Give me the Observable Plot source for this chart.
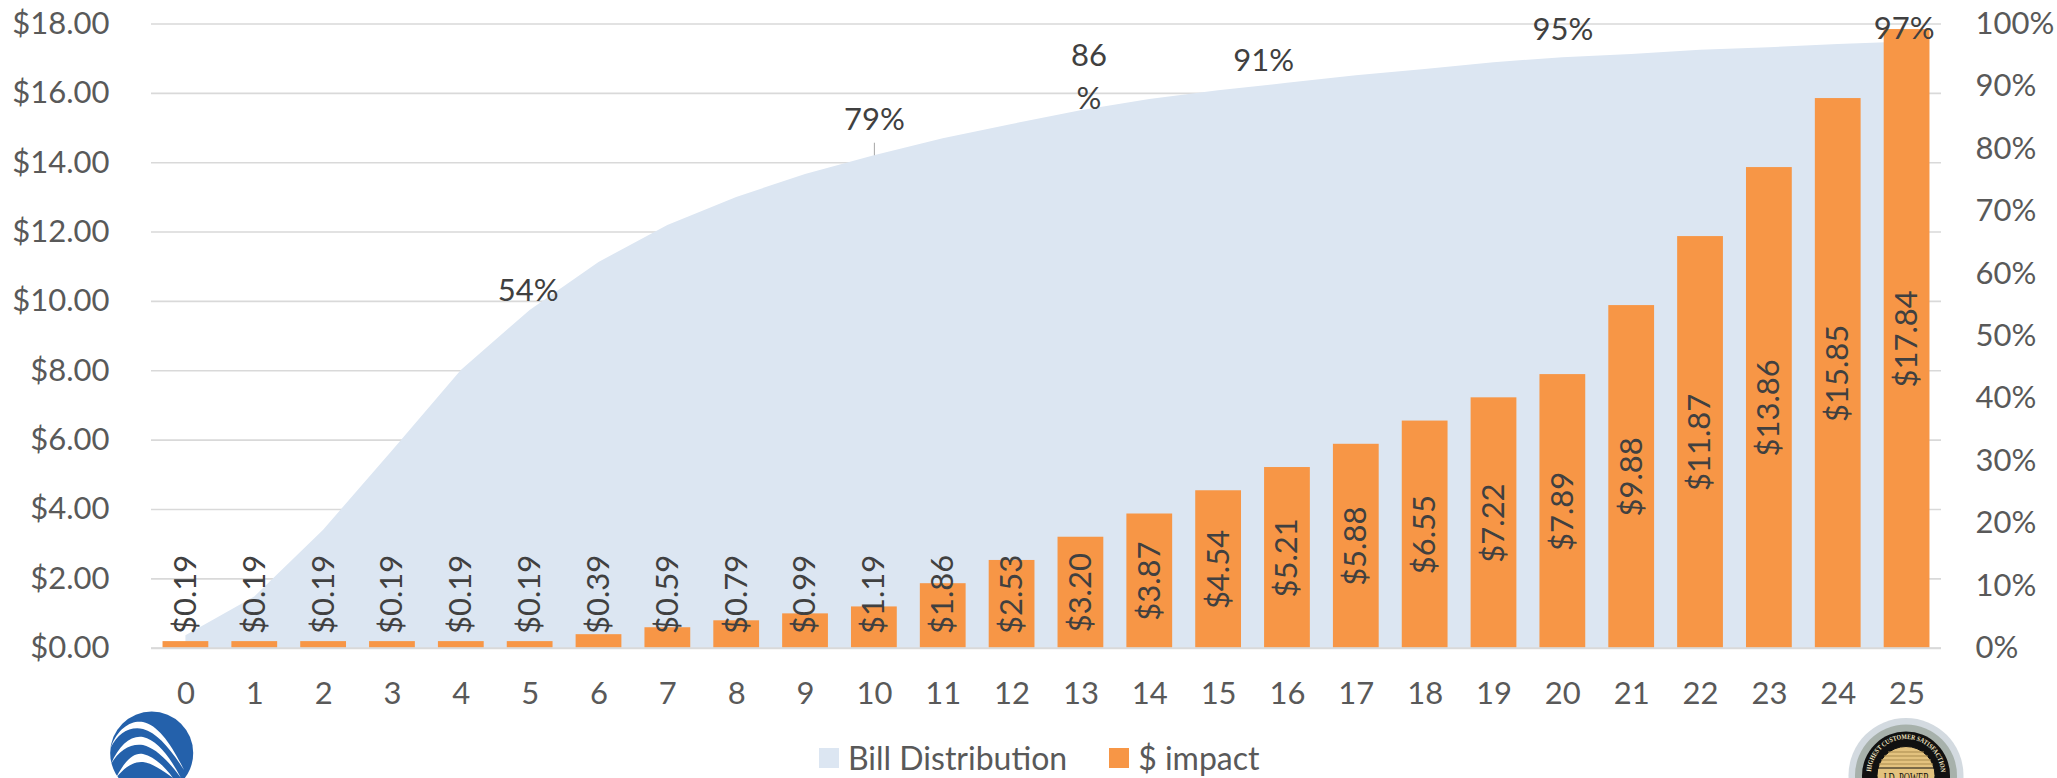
<!DOCTYPE html>
<html>
<head>
<meta charset="utf-8">
<script src="https://cdn.jsdelivr.net/npm/d3@7"></script>
<script src="https://cdn.jsdelivr.net/npm/@observablehq/plot@0.6"></script>
<style>
  html, body { margin: 0; padding: 0; background: #fff; }
  body { position: relative; width: 2057px; height: 778px; overflow: hidden; font-family: Lato, sans-serif; }
  #chart svg { display: block; }
  #legend { position: absolute; top: 739px; left: 819px; height: 38px; display: flex; align-items: center; color: #595959; font-size: 32px; line-height: 36px; white-space: nowrap; }
  #legend i { display: inline-block; width: 20px; height: 20px; margin-right: 9px; }
  #legend span { margin-right: 42px; }
  .decor { position: absolute; overflow: hidden; }
</style>
</head>
<body>
<div id="chart"></div>
<div id="legend">
  <i style="background:#DCE6F2"></i><span id="legendArea"></span>
  <i style="background:#F79646"></i><span id="legendBars"></span>
</div>
<svg class="decor" style="left:100px;top:700px" width="110" height="78" viewBox="100 700 110 78">
  <circle cx="151.7" cy="753" r="41.5" fill="#2461AB"/>
  <g fill="#fff">
    <path d="M110.5 748 C118 727 132 720 143 722 C158 725 172 745 184 770 C170 748 157 733 143 729 C130 726 118 733 110.5 748Z"/>
    <path d="M111 764 C119 745 131 735 143 737 C157 740 170 757 181 778 C167 759 155 748 143 745 C131 743 119 750 111 764Z"/>
    <path d="M116 778 C124 762 133 752 143 754 C155 757 165 767 173 778 C162 770 152 763 143 762 C133 761 124 768 116 778Z"/>
  </g>
</svg>
<svg class="decor" style="left:1840px;top:710px" width="130" height="68" viewBox="0 0 130 68">
  <circle cx="66" cy="65.5" r="57.5" fill="#D3DAE0"/>
  <circle cx="66" cy="65.5" r="51" fill="#A7B1AB"/>
  <circle cx="66" cy="65.5" r="44" fill="#111"/>
  <circle cx="66" cy="65.5" r="29" fill="#E3C27E" stroke="#111"/>
  <path id="badgeArc" d="M31 64 A35 35 0 0 1 101 64" fill="none"/>
  <text font-family="Liberation Serif, serif" font-size="7" font-weight="700" fill="#f2e6c4" textLength="106" lengthAdjust="spacingAndGlyphs"><textPath href="#badgeArc" startOffset="2%">HIGHEST CUSTOMER SATISFACTION</textPath></text>
  <g stroke="#a98b4e" stroke-width="1">
    <line x1="48" y1="42" x2="84" y2="42"/><line x1="44" y1="46" x2="88" y2="46"/><line x1="41" y1="50" x2="91" y2="50"/><line x1="39" y1="54" x2="93" y2="54"/>
  </g>
  <line x1="37" y1="58" x2="95" y2="58" stroke="#111"/>
  <text x="66" y="73" text-anchor="middle" font-family="Liberation Serif, serif" font-size="14" fill="#111" textLength="46" lengthAdjust="spacingAndGlyphs">J.D. POWER</text>
</svg>
<script>
// Categories
const categories = d3.range(0, 26);
// Series: $ impact (dollars)
const impact = [0.19, 0.19, 0.19, 0.19, 0.19, 0.19, 0.39, 0.59, 0.79, 0.99, 1.19, 1.86, 2.53, 3.20, 3.87, 4.54, 5.21, 5.88, 6.55, 7.22, 7.89, 9.88, 11.87, 13.86, 15.85, 17.84];
// Series: Bill Distribution (cumulative percent)
const billDistribution = [2.0, 8.2, 18.9, 31.6, 44.5, 54.1, 61.8, 67.7, 72.2, 75.9, 78.9, 81.6, 83.9, 86.1, 87.9, 89.3, 90.5, 91.7, 92.7, 93.8, 94.6, 95.1, 95.8, 96.2, 96.7, 97.1];
// Tick labels
const dollarTicks = [0, 2, 4, 6, 8, 10, 12, 14, 16, 18];
const percentTicks = [0, 10, 20, 30, 40, 50, 60, 70, 80, 90, 100];
const seriesNames = ["Bill Distribution", "$ impact"];

document.getElementById("legendArea").textContent = seriesNames[0];
document.getElementById("legendBars").textContent = seriesNames[1];

const DOLLAR_MAX = 18;
const pct = p => p * DOLLAR_MAX / 100;
const FONT = 31;
const rows = categories.map((c, i) => ({c, impact: impact[i], bill: billDistribution[i]}));
const AXIS = "#595959", LABEL = "#404040", GRID = "#D9D9D9";

// One callout for each labelled point of the bill curve
const callout = (cat, text, dx, dy, lineHeight) => Plot.text([rows[cat]], {
  x: "c", y: d => pct(d.bill), text: () => text, dx, dy,
  fill: LABEL, fontSize: FONT, lineHeight, textAnchor: "middle", lineAnchor: "middle"
});

const chart = Plot.plot({
  width: 2057, height: 735,
  marginLeft: 151, marginRight: 116, marginTop: 23.5, marginBottom: 87.3,
  style: {fontFamily: "Lato, sans-serif", background: "transparent"},
  x: {type: "band", domain: categories, paddingInner: 0.335, paddingOuter: 0.1675, align: 0.5, round: false, label: null},
  y: {domain: [0, DOLLAR_MAX], label: null},
  marks: [
    Plot.gridY(dollarTicks, {stroke: GRID, strokeOpacity: 1, strokeWidth: 1.6}),
    Plot.areaY(rows, {x: "c", y1: 0, y2: d => pct(d.bill), fill: "#DCE6F2", curve: "linear"}),
    Plot.ruleX([rows[10]], {x: "c", y1: d => pct(d.bill), y2: () => pct(80.9), stroke: "#A6A6A6", strokeWidth: 1}),
    Plot.barY(rows, {x: "c", y1: 0, y2: "impact", fill: "#F79646"}),
    Plot.ruleY([0], {stroke: GRID, strokeWidth: 2}),
    Plot.axisY({ticks: dollarTicks, anchor: "left", tickSize: 0, tickPadding: 42, fontSize: FONT, color: AXIS, tickFormat: d => "$" + d.toFixed(2), label: null}),
    Plot.axisY({ticks: percentTicks.map(pct), anchor: "right", tickSize: 0, tickPadding: 34, fontSize: FONT, color: AXIS, tickFormat: d => Math.round(d / DOLLAR_MAX * 100) + "%", label: null}),
    Plot.axisX({tickSize: 0, tickPadding: 34, fontSize: FONT, color: AXIS, label: null}),
    Plot.text(rows, {
      x: "c", y: d => Math.max(d.impact / 2, 1.55),
      text: d => "$" + d.impact.toFixed(2),
      rotate: -90, fill: LABEL, fontSize: FONT, textAnchor: "middle", lineAnchor: "middle"
    }),
    callout(5, "54%", -2, -19),
    callout(10, "79%", 0, -36),
    callout(13, "86\n%", 8, -37, 1.39),
    callout(15, "91%", 45, -30),
    callout(20, "95%", 0, -28),
    callout(25, "97%", -3, -13)
  ]
});
document.getElementById("chart").append(chart);
</script>
</body>
</html>
